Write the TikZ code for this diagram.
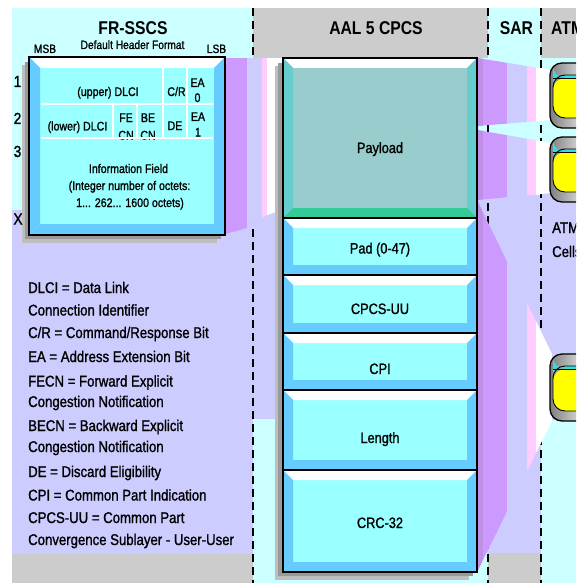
\documentclass[tikz,border=0pt]{standalone}
\usepackage{fontspec}
\setmainfont{Liberation Sans}[FakeStretch=0.85, UprightFeatures={FakeBold=1.2}]
\definecolor{cyanbg}{HTML}{CCFFFF}
\definecolor{lav}{HTML}{CCCCFF}
\definecolor{headgray}{HTML}{CCCCCC}
\definecolor{purp}{HTML}{CC99FF}
\definecolor{purpdk}{HTML}{C08FE6}
\definecolor{pinkc}{HTML}{FFCCFF}
\definecolor{facec}{HTML}{99FFFF}
\definecolor{sidec}{HTML}{66CCFF}
\definecolor{payface}{HTML}{99CCCC}
\definecolor{payside}{HTML}{66CCCC}
\definecolor{paybot}{HTML}{33CC99}
\definecolor{shadowlt}{HTML}{BEBEBE}
\definecolor{shadowdk}{HTML}{9A9A9A}
\definecolor{cellcyan}{HTML}{33DDDD}
\definecolor{cellyel}{HTML}{FFFF00}
\tikzset{
  bevelbox/.style args={#1/#2/#3/#4}{draw=black, line width=2.4pt, fill=#1,
    inner sep=0pt, outer sep=0pt,
    path picture={
      \path (path picture bounding box.north west) coordinate (bNW)
            (path picture bounding box.north east) coordinate (bNE)
            (path picture bounding box.south west) coordinate (bSW)
            (path picture bounding box.south east) coordinate (bSE);
      \fill[white] (bNW) -- (bNE) -- ([shift={(-#4pt,-#4pt)}]bNE)
        -- ([shift={(#4pt,-#4pt)}]bNW) -- cycle;
      \fill[#2] (bNW) -- ([shift={(#4pt,-#4pt)}]bNW)
        -- ([shift={(#4pt,#4pt)}]bSW) -- (bSW) -- cycle;
      \fill[#2] (bNE) -- ([shift={(-#4pt,-#4pt)}]bNE)
        -- ([shift={(-#4pt,#4pt)}]bSE) -- (bSE) -- cycle;
      \fill[#3] (bSW) -- ([shift={(#4pt,#4pt)}]bSW)
        -- ([shift={(-#4pt,#4pt)}]bSE) -- (bSE) -- cycle;
    }},
  atmcell/.style={draw=black, line width=1.3pt, rounded corners=12pt,
    minimum width=44pt, inner sep=0pt, outer sep=0pt,
    left color=black!50, right color=white,
    path picture={
      \fill[cellcyan] ([shift={(3pt,-12pt)}]path picture bounding box.north west)
        rectangle ([shift={(-3pt,-15pt)}]path picture bounding box.north east);
      \fill[cellyel] ([shift={(3pt,-15pt)}]path picture bounding box.north west)
        rectangle ([shift={(-3pt,10pt)}]path picture bounding box.south east);
      \draw[black, line width=0.9pt]
        ([shift={(3pt,-12pt)}]path picture bounding box.north west)
        rectangle ([shift={(-3pt,10pt)}]path picture bounding box.south east);
      \draw[black, line width=0.6pt]
        ([shift={(3pt,-15pt)}]path picture bounding box.north west)
        -- ([shift={(-3pt,-15pt)}]path picture bounding box.north east);
    }},
  sep/.style={black, line width=2pt, dash pattern=on 8pt off 5pt},
  gridline/.style={white, line width=1.3pt},
  txt/.style={inner sep=0pt, anchor=base},
  hdr/.style={txt, font=\fontsize{18.5}{20}\selectfont\bfseries},
  subt/.style={txt, font=\fontsize{12}{14}\selectfont},
  cellt/.style={txt, font=\fontsize{12.5}{14}\selectfont},
  rownum/.style={txt, font=\fontsize{16}{18}\selectfont},
  boxlbl/.style={txt, font=\fontsize{15}{18}\selectfont},
  legend/.style={inner sep=0pt, anchor=base west, font=\fontsize{15.5}{18}\selectfont},
}
% striped flow band, clipped by the enclosing scope
\newcommand{\flowstripes}{%
  \fill[purp] (477,0) rectangle (507,583);
  \fill[purpdk] (477,0) rectangle (483,583);
  \fill[lav] (507,0) rectangle (527,583);
  \fill[pinkc] (527,0) rectangle (536,583);
  \fill[white] (536,0) rectangle (556,583);}
\begin{document}
\begin{tikzpicture}[x=1pt,y=-1pt]
\useasboundingbox (0,0) rectangle (576,583);
\clip (0,0) rectangle (576,583);

% column backgrounds
\fill[white] (0,0) rectangle (576,583);
\fill[cyanbg] (12,8) rectangle (576,583);
\fill[lav] (12,210) rectangle (253,554);
\fill[lav] (225,58) rectangle (275,419);
\fill[lav] (477,195) rectangle (541,553);
\fill[lav] (541,193) rectangle (576,420);
\fill[headgray] (12,554) rectangle (253,583);
\fill[headgray] (488,553) rectangle (541,583);
\fill[headgray] (253,8) rectangle (488,58);
\fill[headgray] (541,8) rectangle (576,58);

% layer separators
\draw[sep] (253,8) -- (253,583);
\draw[sep] (488,8) -- (488,583);
\draw[sep] (541,8) -- (541,583);

% flow from the FR-SSCS frame into the payload
\begin{scope}
  \clip (225,58) -- (283,58) -- (283,210) -- (267,215) -- (247,228) -- (225,234) -- cycle;
  \fill[purp] (225,58) rectangle (247,240);
  \fill[lav] (247,58) rectangle (262,240);
  \fill[pinkc] (262,58) rectangle (267,240);
  \fill[white] (267,58) rectangle (283,240);
\end{scope}

% flows from the CPCS-PDU into the ATM cells
\begin{scope}
  \clip (477,58) -- (552,70) -- (552,120) -- (477,126) -- cycle;
  \flowstripes
\end{scope}
\begin{scope}
  \clip (477,130) -- (552,143) -- (552,193) -- (477,200) -- cycle;
  \flowstripes
\end{scope}
\begin{scope}
  \clip (477,200) -- (552,354) -- (552,421) -- (477,572) -- cycle;
  \flowstripes
\end{scope}

% drop shadows
\fill[shadowlt] (22,65) rectangle (217,243);
\fill[shadowdk] (25,62) rectangle (221,239);
\fill[shadowlt] (275,66) rectangle (469,580);
\fill[shadowdk] (278,63) rectangle (473,576);

% column headers
\node[hdr] (frtitle) at (133,35) {FR-SSCS};
\node[subt] (frsub) at (132.5,49) {Default Header Format};
\node[subt] (msb) at (45,53) {MSB};
\node[subt] (lsb) at (216.5,53) {LSB};
\node[hdr] (aaltitle) at (376,35) {AAL 5 CPCS};
\node[hdr] (sartitle) at (516.5,35) {SAR};
\node[hdr, anchor=base west] (atmtitle) at (551,35) {ATM};

% FR-SSCS header format
\node[bevelbox=facec/sidec/sidec/11, minimum width=196pt, minimum height=178pt] (frbox) at (127,146) {};
\node[cellt] (updlci) at (108,96) {(upper) DLCI};
\node[cellt] (cr) at (176.5,96) {C/R};
\node[cellt] (ea0a) at (197.5,87) {EA};
\node[cellt] (ea0b) at (197.5,102) {0};
\node[cellt] (lodlci) at (77.5,130.5) {(lower) DLCI};
\node[cellt] (fea) at (126,122) {FE};
\node[cellt] (feb) at (126,139.5) {CN};
\node[cellt] (bea) at (148,122) {BE};
\node[cellt] (beb) at (148,139.5) {CN};
\node[cellt] (de) at (175,130) {DE};
\node[cellt] (ea1a) at (198,121) {EA};
\node[cellt] (ea1b) at (198,136.5) {1};
\node[cellt] (info1) at (128.5,173) {Information Field};
\node[cellt] (info2) at (129.5,190) {(Integer number of octets:};
\node[cellt] (info3) at (130,207) {1... 262... 1600 octets)};
\draw[gridline] (41,104) -- (213,104);
\draw[gridline] (41,138) -- (213,138);
\draw[gridline] (163,68) -- (163,138);
\draw[gridline] (187,68) -- (187,138);
\draw[gridline] (113,104) -- (113,138);
\draw[gridline] (137,104) -- (137,138);

% octet numbers
\node[rownum] (oct1) at (17.5,87) {1};
\node[rownum] (oct2) at (17.5,124) {2};
\node[rownum] (oct3) at (17.5,157) {3};
\node[rownum] (octx) at (18,224.5) {X};

% AAL 5 CPCS-PDU stack
\node[bevelbox=payface/payside/paybot/10, minimum width=194pt, minimum height=160pt] (payload) at (380,138) {};
\node[bevelbox=facec/sidec/sidec/10, minimum width=194pt, minimum height=57pt] (pad) at (380,246.5) {};
\node[bevelbox=facec/sidec/sidec/10, minimum width=194pt, minimum height=58pt] (cpcsuu) at (380,304) {};
\node[bevelbox=facec/sidec/sidec/10, minimum width=194pt, minimum height=57pt] (cpi) at (380,361.5) {};
\node[bevelbox=facec/sidec/sidec/10, minimum width=194pt, minimum height=80pt] (length) at (380,430) {};
\node[bevelbox=facec/sidec/sidec/10, minimum width=194pt, minimum height=102pt] (crc) at (380,521) {};
\node[boxlbl] (payloadtxt) at (380,153) {Payload};
\node[boxlbl] (padtxt) at (380,253.5) {Pad (0-47)};
\node[boxlbl] (cpcsuutxt) at (380,314) {CPCS-UU};
\node[boxlbl] (cpitxt) at (380,374) {CPI};
\node[boxlbl] (lengthtxt) at (380,443) {Length};
\node[boxlbl] (crctxt) at (380,528) {CRC-32};

% ATM cells
\node[atmcell, minimum height=65pt] (cell1) at (572,95.5) {};
\node[atmcell, minimum height=65pt] (cell2) at (572,169.5) {};
\node[atmcell, minimum height=67pt] (cell3) at (572,387.5) {};
\node[legend] (atmcellsa) at (552,233) {ATM};
\node[legend] (atmcellsb) at (552,257) {Cells};

% abbreviations
\node[legend] (lg1) at (28,293) {DLCI = Data Link};
\node[legend] (lg2) at (28,315.5) {Connection Identifier};
\node[legend] (lg3) at (28,338) {C/R = Command/Response Bit};
\node[legend] (lg4) at (28,362) {EA = Address Extension Bit};
\node[legend] (lg5) at (28,386.5) {FECN = Forward Explicit};
\node[legend] (lg6) at (28,407) {Congestion Notification};
\node[legend] (lg7) at (28,431) {BECN = Backward Explicit};
\node[legend] (lg8) at (28,452) {Congestion Notification};
\node[legend] (lg9) at (28,477) {DE = Discard Eligibility};
\node[legend] (lg10) at (28,500.5) {CPI = Common Part Indication};
\node[legend] (lg11) at (28,523) {CPCS-UU = Common Part};
\node[legend] (lg12) at (28,545) {Convergence Sublayer - User-User};
\end{tikzpicture}
\end{document}
